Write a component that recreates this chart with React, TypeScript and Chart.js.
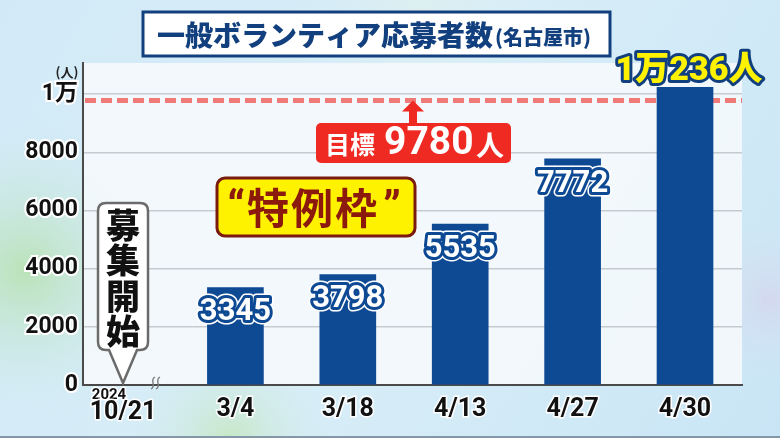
import React, { useEffect, useRef } from 'react';
import { Chart, registerables } from 'chart.js';

Chart.register(...registerables);

// ---- data ----
const categories = ['10/21', '3/4', '3/18', '4/13', '4/27', '4/30'];
const firstYear = '2024';
const applicants: (number | null)[] = [null, 3345, 3798, 5535, 7772, 10236];
const valueLabels = ['', '3345', '3798', '5535', '7772', '1万236人'];
const yTicks = [0, 2000, 4000, 6000, 8000, 10000];
const yTickLabels = ['0', '2000', '4000', '6000', '8000', '1万'];
const targetValue = 9780;
const titleMain = '一般ボランティア応募者数';
const titleSub = '(名古屋市)';
const unitLabel = '(人)';
const targetParts = ['目標', '9780', '人'];
const specialChars = ['特', '例', '枠'];
const startChars = ['募', '集', '開', '始'];

const JP = '"Noto Sans CJK JP"';
const NUM = 'Roboto, "Noto Sans CJK JP"';
const NAVY = '#0e4a94';

function outlinedText(
  ctx: CanvasRenderingContext2D,
  text: string,
  x: number,
  y: number,
  font: string,
  fill: string,
  stroke: string,
  width: number,
  outer?: string
) {
  ctx.save();
  ctx.font = font;
  ctx.textAlign = 'center';
  ctx.textBaseline = 'middle';
  ctx.lineJoin = 'round';
  if (outer) {
    ctx.strokeStyle = outer;
    ctx.lineWidth = width + 3;
    ctx.strokeText(text, x, y);
  }
  ctx.strokeStyle = stroke;
  ctx.lineWidth = width;
  ctx.strokeText(text, x, y);
  ctx.fillStyle = fill;
  ctx.fillText(text, x, y);
  ctx.restore();
}

const decorPlugin = {
  id: 'decor',
  beforeDraw(chart: any) {
    const { ctx, chartArea: a, width, height } = chart;
    ctx.save();
    const g = ctx.createLinearGradient(0, 0, width, height);
    g.addColorStop(0, '#d2eaf7');
    g.addColorStop(0.5, '#d8eef8');
    g.addColorStop(1, '#c9e5f5');
    ctx.fillStyle = g;
    ctx.fillRect(0, 0, width, height);
    const blob = (x: number, y: number, r: number, c: string) => {
      const rg = ctx.createRadialGradient(x, y, 0, x, y, r);
      rg.addColorStop(0, c);
      rg.addColorStop(1, 'rgba(210,234,247,0)');
      ctx.fillStyle = rg;
      ctx.fillRect(0, 0, width, height);
    };
    blob(25, 270, 160, 'rgba(185,226,180,0.95)');
    blob(230, 440, 110, 'rgba(195,230,185,0.8)');
    blob(770, 300, 90, 'rgba(215,210,235,0.7)');
    blob(420, 10, 160, 'rgba(225,240,235,0.6)');
    ctx.fillStyle = 'rgba(243,248,251,0.96)';
    ctx.fillRect(a.left, a.top, a.right - a.left, a.bottom - a.top);
    ctx.fillStyle = '#8497a8';
    ctx.fillRect(0, height - 2, width, 2);
    ctx.restore();
  },
  beforeDatasetsDraw(chart: any) {
    const { ctx, chartArea: a, scales } = chart;
    const y = scales.y.getPixelForValue(targetValue);
    ctx.save();
    ctx.strokeStyle = '#f07a78';
    ctx.lineWidth = 5;
    ctx.setLineDash([11, 5]);
    ctx.beginPath();
    ctx.moveTo(a.left + 2, y);
    ctx.lineTo(a.right, y);
    ctx.stroke();
    ctx.restore();
  },
  afterDatasetsDraw(chart: any) {
    const { ctx, chartArea: a, scales } = chart;
    const meta = chart.getDatasetMeta(0);
    meta.data.forEach((bar: any, i: number) => {
      const txt = valueLabels[i];
      if (!txt || applicants[i] == null) return;
      if (i === applicants.length - 1) {
        outlinedText(ctx, txt, bar.x + 4, bar.y - 16, `900 34px ${NUM}`, '#fff200', '#123f7e', 6);
      } else {
        outlinedText(ctx, txt, bar.x, bar.y + 25, `bold 31px ${NUM}`, '#ffffff', NAVY, 6, '#ffffff');
      }
    });

    ctx.save();
    // title
    ctx.fillStyle = '#ffffff';
    ctx.strokeStyle = '#123f7e';
    ctx.lineWidth = 3;
    ctx.beginPath();
    ctx.rect(143, 12, 467, 44);
    ctx.fill();
    ctx.stroke();
    ctx.fillStyle = '#123f7e';
    ctx.textBaseline = 'middle';
    ctx.textAlign = 'left';
    ctx.font = `900 28px ${JP}`;
    ctx.fillText(titleMain, 157, 35);
    const w = ctx.measureText(titleMain).width;
    ctx.font = `900 20px ${JP}`;
    ctx.fillText(titleSub, 157 + w + 2, 37);

    // unit label
    ctx.fillStyle = '#222';
    ctx.font = `bold 13px ${JP}`;
    ctx.textAlign = 'center';
    ctx.fillText(unitLabel, 67, 72);

    // target arrow and box
    const ty = scales.y.getPixelForValue(targetValue);
    ctx.fillStyle = '#ee2a22';
    ctx.beginPath();
    ctx.moveTo(413, ty);
    ctx.lineTo(402, ty + 11);
    ctx.lineTo(424, ty + 11);
    ctx.closePath();
    ctx.fill();
    ctx.fillRect(409, ty + 10, 8, 124 - (ty + 10));
    ctx.beginPath();
    ctx.roundRect(316, 123, 195, 40, 5);
    ctx.fill();
    ctx.fillStyle = '#ffffff';
    ctx.textAlign = 'left';
    ctx.font = `bold 25px ${JP}`;
    ctx.fillText(targetParts[0], 325, 144);
    ctx.font = `bold 39px ${NUM}`;
    ctx.fillText(targetParts[1], 384, 144);
    ctx.font = `bold 28px ${JP}`;
    ctx.fillText(targetParts[2], 476, 145);

    // special frame box
    ctx.fillStyle = '#fff200';
    ctx.strokeStyle = '#7b1b10';
    ctx.lineWidth = 3;
    ctx.beginPath();
    ctx.roundRect(217, 178, 198, 58, 8);
    ctx.fill();
    ctx.stroke();
    ctx.fillStyle = '#8c1a0c';
    ctx.textAlign = 'center';
    ctx.font = `bold 44px ${NUM}`;
    ctx.fillText('\u201C', 236, 211);
    ctx.fillText('\u201D', 392, 211);
    ctx.font = `bold 42px ${JP}`;
    specialChars.forEach((c, i) => ctx.fillText(c, 268 + i * 44, 208));

    // recruitment start callout
    const tipX = scales.x.getPixelForValue(0);
    const tipY = a.bottom - 2;
    const L = tipX - 25, R = tipX + 25, T = 203, B = 350, r = 8;
    ctx.beginPath();
    ctx.moveTo(L + r, T);
    ctx.lineTo(R - r, T);
    ctx.quadraticCurveTo(R, T, R, T + r);
    ctx.lineTo(R, B - r);
    ctx.quadraticCurveTo(R, B, R - r, B);
    ctx.lineTo(tipX + 14, B);
    ctx.lineTo(tipX, tipY);
    ctx.lineTo(tipX - 14, B);
    ctx.lineTo(L + r, B);
    ctx.quadraticCurveTo(L, B, L, B - r);
    ctx.lineTo(L, T + r);
    ctx.quadraticCurveTo(L, T, L + r, T);
    ctx.closePath();
    ctx.fillStyle = '#ffffff';
    ctx.fill();
    ctx.strokeStyle = '#6b6b6b';
    ctx.lineWidth = 2.5;
    ctx.stroke();
    ctx.fillStyle = '#111';
    ctx.font = `900 34px ${JP}`;
    startChars.forEach((c, i) => ctx.fillText(c, tipX, 225 + i * 35.5));

    // break mark on the x axis
    ctx.strokeStyle = '#777';
    ctx.lineWidth = 1.3;
    [0, 5].forEach((dx) => {
      const bx = 153 + dx, by = a.bottom - 2;
      ctx.beginPath();
      ctx.moveTo(bx - 2, by + 6);
      ctx.bezierCurveTo(bx + 4, by + 3, bx - 4, by - 3, bx + 2, by - 6);
      ctx.stroke();
    });

    // first category label (year + date)
    ctx.fillStyle = '#111';
    ctx.strokeStyle = '#ffffff';
    ctx.lineWidth = 3;
    ctx.lineJoin = 'round';
    ctx.font = `bold 15px ${NUM}`;
    ctx.strokeText(firstYear, 109, 395);
    ctx.fillText(firstYear, 109, 395);
    ctx.font = `bold 25px ${NUM}`;
    ctx.strokeText(categories[0], tipX, 413);
    ctx.fillText(categories[0], tipX, 413);
    ctx.restore();
  },
};

export default function App() {
  const ref = useRef<HTMLCanvasElement>(null);
  useEffect(() => {
    document.body.style.margin = '0';
    document.body.style.overflow = 'hidden';
    const canvas = ref.current!;
    const chart = new Chart(canvas, {
      type: 'bar',
      data: {
        datasets: [
          {
            data: applicants.map((v, i) => ({ x: i, y: v })) as any,
            backgroundColor: NAVY,
            barThickness: 56,
          },
        ],
      },
      options: {
        responsive: false,
        animation: false,
        devicePixelRatio: 1,
        layout: { padding: { left: 0, right: 38, top: 63, bottom: 0 } },
        plugins: { legend: { display: false }, tooltip: { enabled: false } },
        scales: {
          x: {
            type: 'linear',
            offset: false,
            min: -0.356,
            max: 5.507,
            afterBuildTicks: (scale: any) => {
              scale.ticks = categories.map((_, i) => ({ value: i }));
            },
            afterFit: (scale: any) => {
              scale.height = 53;
            },
            grid: { display: false, drawTicks: false, offset: false },
            border: { display: true, color: '#4a4a4a', width: 2 },
            ticks: {
              padding: 10,
              autoSkip: false,
              maxRotation: 0,
              color: '#111',
              font: { family: NUM, size: 25, weight: 'bold' },
              textStrokeColor: '#ffffff',
              textStrokeWidth: 3,
              callback: (v: any) => (v === 0 ? '' : categories[v]),
            } as any,
          },
          y: {
            min: 0,
            max: 11070,
            afterBuildTicks: (scale: any) => {
              scale.ticks = yTicks.map((v) => ({ value: v }));
            },
            afterFit: (scale: any) => {
              scale.width = 83;
            },
            grid: { color: '#c5cbd0', lineWidth: 1.5, drawTicks: false },
            border: { display: true, color: '#4a4a4a', width: 2 },
            ticks: {
              padding: 5,
              color: '#111',
              font: { family: NUM, size: 23, weight: 'bold' },
              textStrokeColor: '#ffffff',
              textStrokeWidth: 4,
              callback: (v: any) => yTickLabels[yTicks.indexOf(v)],
            } as any,
          },
        },
      },
      plugins: [decorPlugin],
    });
    return () => chart.destroy();
  }, []);
  return (
    <div style={{ width: 780, height: 438 }}>
      <canvas ref={ref} width={780} height={438} style={{ display: 'block' }} />
    </div>
  );
}
